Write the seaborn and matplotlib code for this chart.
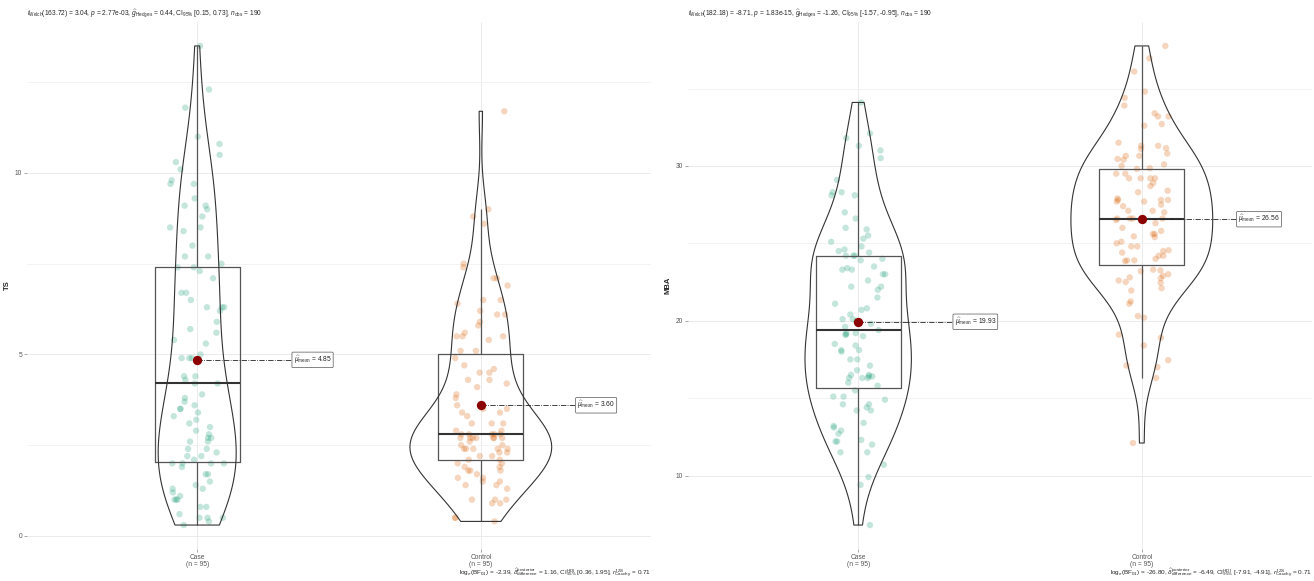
import numpy as np
import pandas as pd
import matplotlib
matplotlib.use("Agg")
import matplotlib.pyplot as plt
from matplotlib.ticker import MultipleLocator
import seaborn as sns

# values (95 per group)
groups = ["Case", "Control"]
group_colors = ["#1B9E77", "#D95F02"]

ts_case = [13.5, 12.3, 11.8, 11.0, 10.8, 10.5, 10.3, 10.1, 9.8, 9.7,
           9.7, 9.3, 9.1, 9.1, 9.0, 8.8, 8.5, 8.5, 8.4, 8.0,
           7.7, 7.7, 7.4, 7.4, 7.3, 7.1, 6.7, 6.7, 6.5, 6.3,
           6.3, 6.3, 6.2, 5.9, 5.7, 5.4, 5.3, 5.0, 4.9, 4.9,
           4.9, 4.4, 4.4, 4.3, 4.2, 4.2, 3.9, 3.8, 3.7, 3.6,
           3.5, 3.5, 3.4, 3.3, 3.2, 3.1, 2.8, 2.7, 2.7, 2.6,
           2.6, 2.4, 2.4, 2.2, 2.2, 2.1, 2.0, 2.0, 2.0, 1.9,
           1.7, 1.7, 1.5, 1.4, 1.3, 1.3, 1.2, 1.1, 1.0, 1.0,
           1.0, 0.8, 0.6, 0.5, 0.5, 0.5, 0.4, 0.3,
           7.5, 5.6, 3.0, 2.9, 2.3, 2.0, 0.8]
ts_control = [11.7, 9.0, 8.8, 8.6, 7.5, 7.4, 7.1, 7.1, 6.9, 6.5,
              6.5, 6.4, 6.2, 6.1, 6.1, 5.9, 5.8, 5.6, 5.5, 5.5,
              5.5, 5.4, 5.1, 5.1, 4.9, 4.7, 4.6, 4.5, 4.5, 4.3,
              4.3, 4.2, 4.1, 3.9, 3.8, 3.6, 3.5, 3.5, 3.4, 3.4,
              3.3, 3.1, 3.1, 3.1, 2.9, 2.9, 2.8, 2.8, 2.8, 2.8,
              2.8, 2.7, 2.7, 2.7, 2.7, 2.7, 2.7, 2.7, 2.5, 2.5,
              2.4, 2.4, 2.4, 2.4, 2.4, 2.3, 2.3, 2.2, 2.2, 2.1,
              2.1, 2.0, 2.0, 1.9, 1.9, 1.8, 1.8, 1.8, 1.7, 1.6,
              1.6, 1.5, 1.5, 1.4, 1.4, 1.3, 1.0, 1.0, 1.0, 0.9,
              0.9, 0.5, 0.5, 0.4, 2.6]
mba_case = [34.1, 32.1, 31.8, 31.3, 31.0, 30.5, 29.1, 28.3, 28.3, 28.1,
            28.1, 26.6, 25.9, 26.0, 25.5, 25.3, 25.1, 24.8, 24.6, 24.2,
            24.2, 24.4, 24.2, 24.5, 23.9, 23.5, 23.4, 23.3, 23.3, 23.0,
            23.0, 22.6, 22.2, 22.0, 22.2, 21.1, 20.8, 20.7, 20.4, 20.1,
            20.1, 20.0, 19.6, 19.2, 19.2, 19.4, 19.0, 19.1, 19.1, 18.4,
            18.0, 18.1, 18.1, 18.5, 17.5, 17.5, 17.1, 16.4, 16.4, 16.5,
            16.5, 16.3, 16.3, 16.3, 16.0, 15.5, 15.1, 15.1, 14.9, 14.6,
            14.6, 14.4, 14.2, 14.2, 13.4, 13.2, 13.1, 12.9, 12.7, 12.2,
            12.2, 12.3, 11.5, 10.7, 9.9, 9.4, 6.8,
            27.0, 24.0, 21.5, 19.8, 16.8, 15.8, 12.0, 11.5]
mba_control = [37.75, 36.95, 36.1, 34.8, 34.4, 33.9, 33.4, 33.2, 33.2, 32.7,
               32.6, 31.5, 31.3, 31.15, 31.3, 31.1, 30.65, 30.65, 30.4, 30.45,
               30.1, 29.85, 30.0, 29.8, 29.5, 29.5, 29.2, 29.2, 29.2, 29.2,
               28.7, 28.4, 28.3, 27.9, 27.7, 27.8, 27.8, 27.7, 27.8, 27.4,
               27.1, 27.1, 27.0, 26.6, 26.6, 26.6, 26.6, 26.3, 26.0, 25.6,
               25.8, 25.6, 25.45, 25.4, 25.1, 24.8, 24.8, 24.5, 24.4, 24.2,
               24.2, 24.55, 23.9, 23.85, 23.9, 23.25, 23.0, 23.3, 23.2, 22.8,
               22.75, 22.9, 22.6, 22.5, 22.45, 22.1, 21.95, 21.1, 20.3, 20.2,
               19.1, 18.9, 18.4, 17.0, 17.1, 17.45, 16.3, 12.1,
               30.8, 28.9, 27.5, 26.5, 25.0, 24.0, 21.25]

ts_title = (r"$t_{\mathrm{Welch}}$(163.72) = 3.04, $p$ = 2.77e-03, "
            r"$\widehat{g}_{\mathrm{Hedges}}$ = 0.44, CI$_{95\%}$ [0.15, 0.73], "
            r"$n_{\mathrm{obs}}$ = 190")
ts_caption = (r"log$_{e}$(BF$_{01}$) = -2.39, "
              r"$\widehat{\delta}_{\mathrm{difference}}^{\mathrm{posterior}}$ = 1.16, "
              r"CI$_{95\%}^{\mathrm{HDI}}$ [0.36, 1.95], "
              r"$r_{\mathrm{Cauchy}}^{\mathrm{JZS}}$ = 0.71")
mba_title = (r"$t_{\mathrm{Welch}}$(182.18) = -8.71, $p$ = 1.83e-15, "
             r"$\widehat{g}_{\mathrm{Hedges}}$ = -1.26, CI$_{95\%}$ [-1.57, -0.95], "
             r"$n_{\mathrm{obs}}$ = 190")
mba_caption = (r"log$_{e}$(BF$_{01}$) = -26.80, "
               r"$\widehat{\delta}_{\mathrm{difference}}^{\mathrm{posterior}}$ = -6.49, "
               r"CI$_{95\%}^{\mathrm{HDI}}$ [-7.91, -4.91], "
               r"$r_{\mathrm{Cauchy}}^{\mathrm{JZS}}$ = 0.71")

sns.set_theme(style="white")
plt.rcParams["font.family"] = ["Liberation Sans", "DejaVu Sans"]
plt.rcParams["mathtext.fontset"] = "custom"
plt.rcParams["mathtext.rm"] = "Liberation Sans"
plt.rcParams["mathtext.it"] = "Liberation Sans:italic"
plt.rcParams["mathtext.bf"] = "Liberation Sans:bold"

W, H = 1314, 581
fig = plt.figure(figsize=(W / 100, H / 100), dpi=100)


def draw_panel(ax, case_vals, ctrl_vals, ylab, major, title, caption):
    df = pd.DataFrame({
        "group": ["Case"] * len(case_vals) + ["Control"] * len(ctrl_vals),
        "value": list(case_vals) + list(ctrl_vals),
    })
    np.random.seed(3)
    sns.stripplot(data=df, x="group", y="value", hue="group", order=groups,
                  palette=group_colors, alpha=0.26, size=4.6, jitter=0.1,
                  linewidth=0, legend=False, ax=ax, zorder=2)
    sns.boxplot(data=df, x="group", y="value", order=groups, width=0.3,
                fill=False, color="#555555", linewidth=0.9, showfliers=False,
                showcaps=False, whis=1.5,
                medianprops={"linewidth": 1.5, "color": "#333333"},
                ax=ax, zorder=3)
    sns.violinplot(data=df, x="group", y="value", order=groups, width=0.5,
                   fill=False, color="#333333", linewidth=0.8, inner=None,
                   cut=0, density_norm="area", bw_adjust=0.9, ax=ax, zorder=3)

    means = df.groupby("group")["value"].mean().reindex(groups)
    for i, m in enumerate(means):
        ax.plot([i, i + 0.34], [m, m], ls="-.", color="#222222", lw=0.6, zorder=4)
        ax.scatter([i], [m], s=45, color="#8B0000", zorder=5, linewidths=0)
        ax.text(i + 0.34, m, r"$\widehat{\mu}_{\mathrm{mean}}$ = " + f"{m:.2f}",
                fontsize=4.8, ha="left", va="center", color="#222222", zorder=6,
                bbox=dict(boxstyle="round,pad=0.25,rounding_size=0.15",
                          fc="white", ec="#555555", lw=0.5))

    lo, hi = df["value"].min(), df["value"].max()
    pad = 0.05 * (hi - lo)
    ax.set_ylim(lo - pad, hi + pad)
    ax.set_xlim(-0.6, 1.6)
    ax.yaxis.set_major_locator(MultipleLocator(major))
    ax.yaxis.set_minor_locator(MultipleLocator(major / 2))
    ax.grid(True, which="major", color="#e8e8e8", lw=0.6)
    ax.grid(True, which="minor", axis="y", color="#f1f1f1", lw=0.6)
    ax.set_axisbelow(True)
    for s in ax.spines.values():
        s.set_visible(False)
    ax.tick_params(axis="both", which="major", length=2, width=0.5,
                   color="#888888", labelsize=4.8, labelcolor="#555555", pad=1.5)
    ax.tick_params(axis="both", which="minor", length=0)
    ax.tick_params(axis="x", bottom=True)
    ax.tick_params(axis="y", left=True)
    ax.set_xticks(range(len(groups)))
    ax.set_xticklabels([f"{g}\n(n = {n})" for g, n in
                        zip(groups, [len(case_vals), len(ctrl_vals)])],
                       linespacing=1.1)
    ax.set_xlabel("")
    ax.set_ylabel(ylab, fontsize=5.5, fontweight="bold")
    ax.yaxis.set_label_coords(-16 / 624, 0.5)
    ax.set_title(title, loc="left", fontsize=4.8, pad=5)
    ax.annotate(caption, xy=(1, 0), xycoords="axes fraction", xytext=(0, -24),
                textcoords="offset pixels", ha="right", va="center", fontsize=4.6)


ax1 = fig.add_axes([27 / W, 1 - 549 / H, 624 / W, 527 / H])
ax2 = fig.add_axes([688 / W, 1 - 549 / H, 624 / W, 527 / H])
draw_panel(ax1, ts_case, ts_control, "TS", 5, ts_title, ts_caption)
draw_panel(ax2, mba_case, mba_control, "MBA", 10, mba_title, mba_caption)

fig.savefig("out.png", dpi=100, facecolor="white")
